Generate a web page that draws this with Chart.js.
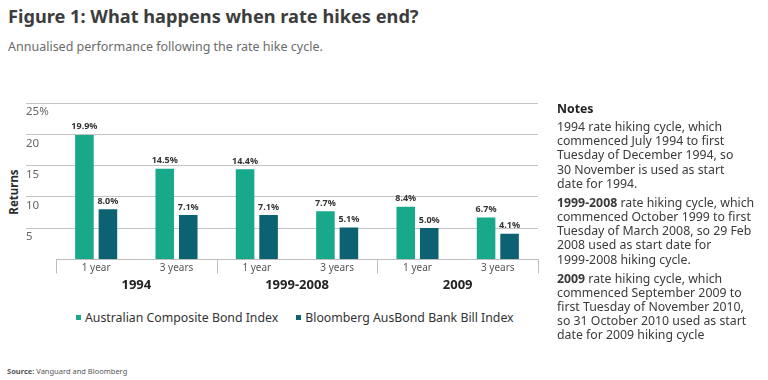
<!DOCTYPE html>
<html><head><meta charset="utf-8">
<script src="https://cdn.jsdelivr.net/npm/chart.js@4.4.1/dist/chart.umd.min.js"></script>
<style>
html,body{margin:0;padding:0;background:#fff;width:768px;height:380px;overflow:hidden;font-family:"Noto Sans",sans-serif;}
#title{position:absolute;left:8px;top:4px;font-size:18.2px;font-weight:700;color:#3d3d3d;white-space:nowrap;}
#subtitle{position:absolute;left:8px;top:38px;font-size:12.5px;color:#6b6b6b;white-space:nowrap;}
#ylab{position:absolute;left:13px;top:192px;transform:translate(-50%,-50%) rotate(-90deg);font-size:11.5px;font-weight:700;color:#2b2b2b;white-space:nowrap;}
#wrap{position:absolute;left:0;top:90px;width:572px;height:203px;}
#legend{position:absolute;left:76px;top:309px;display:flex;align-items:center;font-size:12.3px;color:#333;white-space:nowrap;}
#legend .it{display:flex;align-items:center;margin-right:18px;}
#legend .sw{width:5px;height:5px;margin-right:4px;}
#notes{position:absolute;left:557px;top:102px;font-size:12.3px;line-height:14.2px;color:#3a3a3a;white-space:nowrap;}
#notes p{margin:0;}
#notes p.b{margin-top:4.8px;}
#notes p.h{font-weight:700;color:#222;}
#notes p.h + p{margin-top:3.8px;}
#source{position:absolute;left:7px;top:366px;font-size:7.5px;color:#555;white-space:nowrap;}
</style>
</head><body>
<div id="title">Figure 1: What happens when rate hikes end?</div>
<div id="subtitle">Annualised performance following the rate hike cycle.</div>
<div id="ylab">Returns</div>
<div id="wrap"><canvas id="c"></canvas></div>
<div id="legend"></div>
<div id="notes">
<p class="h">Notes</p>
<p>1994 rate hiking cycle, which<br>commenced July 1994 to first<br>Tuesday of December 1994, so<br>30 November is used as start<br>date for 1994.</p>
<p class="b"><b>1999-2008</b> rate hiking cycle, which<br>commenced October 1999 to first<br>Tuesday of March 2008, so 29 Feb<br>2008 used as start date for<br>1999-2008 hiking cycle.</p>
<p class="b"><b>2009</b> rate hiking cycle, which<br>commenced September 2009 to<br>first Tuesday of November 2010,<br>so 31 October 2010 used as start<br>date for 2009 hiking cycle</p>
</div>
<div id="source"><b>Source:</b> Vanguard and Bloomberg</div>
<script>
const periods = ['1 year', '3 years', '1 year', '3 years', '1 year', '3 years'];
const cycles = ['1994', '1999-2008', '2009'];
const seriesNames = ['Australian Composite Bond Index', 'Bloomberg AusBond Bank Bill Index'];
const compositeBond = [19.9, 14.5, 14.4, 7.7, 8.4, 6.7];
const bankBill = [8.0, 7.1, 7.1, 5.1, 5.0, 4.1];
const yTicks = [0, 5, 10, 15, 20, 25];
const colors = ['#17a98a', '#0d6272'];

const valueLabels = {
  id: 'valueLabels',
  afterDatasetsDraw(chart) {
    const ctx = chart.ctx;
    ctx.save();
    ctx.font = 'bold 9px "Noto Sans"';
    ctx.fillStyle = '#333';
    ctx.textAlign = 'center';
    ctx.textBaseline = 'middle';
    chart.data.datasets.forEach((ds, di) => {
      chart.getDatasetMeta(di).data.forEach((bar, i) => {
        ctx.fillText(ds.data[i].toFixed(1) + '%', bar.x, bar.y - 8);
      });
    });
    ctx.restore();
  }
};

// vertical separators between cycle groups, positioned by the group scale
const groupSeparators = {
  id: 'groupSeparators',
  afterDraw(chart) {
    const gx = chart.scales.x2, xs = chart.scales.x, ctx = chart.ctx;
    ctx.save();
    ctx.strokeStyle = '#bdbdbd';
    ctx.lineWidth = 1;
    for (let i = 0; i <= cycles.length; i++) {
      const px = Math.round(gx.getPixelForValue(i - 0.5)) + 0.5;
      ctx.beginPath();
      ctx.moveTo(px, xs.top);
      ctx.lineTo(px, xs.top + 14);
      ctx.stroke();
    }
    ctx.restore();
  }
};

const chart = new Chart(document.getElementById('c'), {
  type: 'bar',
  data: {
    labels: periods,
    datasets: [
      { label: seriesNames[0], data: compositeBond, backgroundColor: colors[0], barPercentage: 0.79, categoryPercentage: 0.585 },
      { label: seriesNames[1], data: bankBill, backgroundColor: colors[1], barPercentage: 0.79, categoryPercentage: 0.585 }
    ]
  },
  options: {
    responsive: true,
    maintainAspectRatio: false,
    animation: false,
    layout: { padding: { left: 26, top: 13, right: 34, bottom: 0 } },
    plugins: { legend: { display: false }, tooltip: { enabled: false } },
    scales: {
      x: {
        offset: true,
        grid: { display: true, drawOnChartArea: false, drawTicks: false, color: 'rgba(0,0,0,0)' },
        border: { display: true, color: '#bdbdbd' },
        ticks: { font: { family: 'Noto Sans', size: 10 }, color: '#555', padding: 3, maxRotation: 0, autoSkip: false }
      },
      x2: {
        type: 'category',
        labels: cycles,
        position: 'bottom',
        offset: true,
        grid: { display: false, drawTicks: false },
        border: { display: false },
        ticks: { font: { family: 'Noto Sans', size: 13, weight: 'bold' }, color: '#222', padding: 0, maxRotation: 0 }
      },
      y: {
        min: 0, max: 25,
        afterBuildTicks: (s) => { s.ticks = yTicks.map(v => ({ value: v })); },
        afterFit: (s) => { s.width = 30; },
        grid: {
          tickLength: 30,
          color: (c) => (c.tick && c.tick.value === 0 ? 'rgba(0,0,0,0)' : '#c4c4c4')
        },
        border: { display: false },
        ticks: {
          crossAlign: 'far', labelOffset: 9, padding: 0,
          font: { family: 'Noto Sans', size: 11.5 }, color: '#666',
          callback: (v) => (v === 0 ? '' : (v === 25 ? v + '%' : String(v)))
        }
      }
    }
  },
  plugins: [valueLabels, groupSeparators]
});

const lg = document.getElementById('legend');
seriesNames.forEach((n, i) => {
  const it = document.createElement('div'); it.className = 'it';
  const sw = document.createElement('span'); sw.className = 'sw'; sw.style.background = colors[i];
  const tx = document.createElement('span'); tx.textContent = n;
  it.appendChild(sw); it.appendChild(tx); lg.appendChild(it);
});
</script>
</body></html>
